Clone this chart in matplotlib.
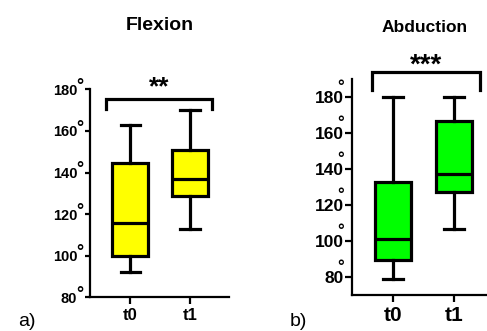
import matplotlib
matplotlib.use("Agg")
import matplotlib.pyplot as plt

plt.rcParams['font.family'] = ['Liberation Sans', 'DejaVu Sans']

groups = ["t0", "t1"]
# Flexion box stats: whislo, q1, med, q3, whishi
flex_stats = [
    dict(whislo=92, q1=100, med=115.5, q3=144.5, whishi=163),
    dict(whislo=113, q1=128.5, med=137, q3=151, whishi=170),
]
abd_stats = [
    dict(whislo=79, q1=89.3, med=101, q3=133, whishi=180),
    dict(whislo=106.5, q1=127.5, med=137.5, q3=167, whishi=180),
]
flex_yticks = [80, 100, 120, 140, 160, 180]
abd_yticks = [80, 100, 120, 140, 160, 180]

fig = plt.figure(figsize=(4.87, 3.31), dpi=100)

def draw(ax, stats, color, ylim, yticks, sig, bracket_y, bracket_drop, bracket_x, star_y, star_fs,
         title, title_xy, title_size, tick_fs, xtick_fs, tick_len, tick_pad, deg_dx, deg_dy, deg_fs):
    st = []
    for s, g in zip(stats, groups):
        d = dict(s); d['label'] = g; d['fliers'] = []
        st.append(d)
    lw = 2.3
    ax.bxp(st, positions=[0, 1], widths=0.6, patch_artist=True, showfliers=False,
           boxprops=dict(facecolor=color, edgecolor='black', linewidth=lw),
           medianprops=dict(color='black', linewidth=lw),
           whiskerprops=dict(color='black', linewidth=lw),
           capprops=dict(color='black', linewidth=lw), capwidths=0.32)
    ax.set_ylim(*ylim)
    ax.set_yticks(yticks)
    ax.set_yticklabels([str(v) for v in yticks], fontsize=tick_fs, fontweight='bold')
    ax.set_xticks([0, 1])
    ax.set_xticklabels(groups, fontsize=xtick_fs, fontweight='bold')
    for sp in ['top', 'right']:
        ax.spines[sp].set_visible(False)
    for sp in ['left', 'bottom']:
        ax.spines[sp].set_linewidth(1.6)
    ax.tick_params(axis='y', width=1.6, length=tick_len, pad=tick_pad)
    ax.tick_params(axis='x', width=1.6, length=5, pad=3)
    for v in yticks:
        ax.annotate("°", xy=(0, v), xycoords=('axes fraction', 'data'),
                    xytext=(deg_dx, deg_dy), textcoords='offset points',
                    ha='center', va='baseline', fontsize=deg_fs, fontweight='bold',
                    annotation_clip=False)
    x0, x1 = bracket_x
    ax.plot([x0, x0, x1, x1], [bracket_y - bracket_drop, bracket_y, bracket_y, bracket_y - bracket_drop],
            color='black', lw=2.3, clip_on=False, solid_joinstyle='miter')
    ax.text((x0 + x1) / 2, star_y, sig, ha='center', va='center', fontsize=star_fs, fontweight='bold')
    fig.text(title_xy[0], title_xy[1], title, ha='center', va='center', fontsize=title_size, fontweight='bold')

ax1 = fig.add_axes([90/487, 1-297.3/331, (229-90)/487, (297.3-89.3)/331])
ax1.set_xlim(-0.67, 1.65)
draw(ax1, flex_stats, '#FFFF00', (80, 180), flex_yticks, '**', 175.2, 4.8, (-0.4, 1.37), 181.0, 19,
     'Flexion', (160/487, 1-25/331), 14, 10.5, 12, 3.6, 5.6, -7.0, -1.2, 13)

ax2 = fig.add_axes([352.3/487, 1-295/331, (487-352.3)/487, (295-79.3)/331])
ax2.set_xlim(-0.67, 1.54)
draw(ax2, abd_stats, '#00FF00', (70, 190), abd_yticks, '***', 194, 10, (-0.34, 1.42), 197.5, 20,
     'Abduction', (425/487, 1-28/331), 12.5, 12.5, 15, 5.0, 0.8, -8.4, 3.5, 12)

fig.text(18/487, 1-321/331, 'a)', fontsize=14, ha='left', va='center')
fig.text(290/487, 1-321/331, 'b)', fontsize=14, ha='left', va='center')

fig.savefig('out.png', dpi=100)
